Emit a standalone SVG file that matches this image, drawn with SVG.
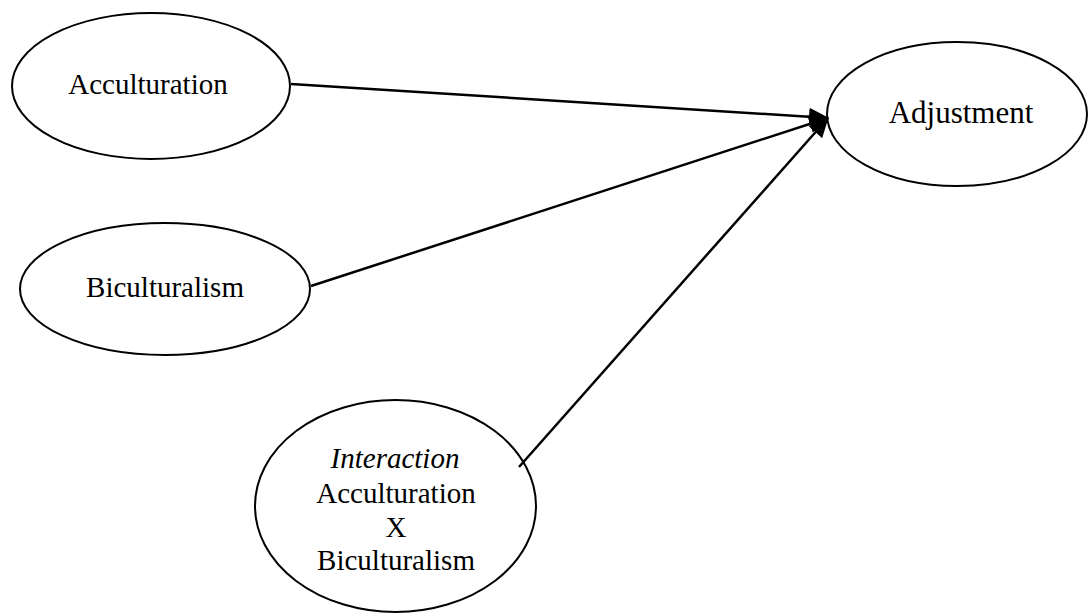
<svg xmlns="http://www.w3.org/2000/svg" width="1088" height="613" viewBox="0 0 1088 613">
<style>
.node{fill:#fff;stroke:#000;stroke-width:2}
.lbl{font-family:"Liberation Serif","Times New Roman",serif;font-size:29px;fill:#000;text-anchor:middle}
.edge{stroke:#000;stroke-width:2.5;fill:none}
</style>
<defs>
<marker id="ah" markerUnits="userSpaceOnUse" markerWidth="22" markerHeight="20" refX="19" refY="10" orient="auto">
<path d="M0,1 L20,10 L0,19 Z" fill="#000"/>
</marker>
</defs>
<rect width="1088" height="613" fill="#fff"/>
<g id="n-acculturation">
<ellipse class="node" cx="151" cy="86" rx="139" ry="73"/>
<text class="lbl" x="148" y="94">Acculturation</text>
</g>
<g id="n-biculturalism">
<ellipse class="node" cx="165" cy="289" rx="145" ry="66"/>
<text class="lbl" x="165" y="297">Biculturalism</text>
</g>
<g id="n-interaction">
<ellipse class="node" cx="395.5" cy="506" rx="140.5" ry="106"/>
<text class="lbl" x="395" y="468" font-style="italic">Interaction</text>
<text class="lbl" x="396" y="503">Acculturation</text>
<text class="lbl" x="396" y="537">X</text>
<text class="lbl" x="396" y="570">Biculturalism</text>
</g>
<g id="n-adjustment">
<ellipse class="node" cx="957" cy="114" rx="130" ry="72"/>
<text class="lbl" x="961" y="123" style="font-size:31px">Adjustment</text>
</g>
<g id="connectors">
<line class="edge" x1="291" y1="84" x2="828" y2="118" marker-end="url(#ah)"/>
<line class="edge" x1="311" y1="286" x2="828" y2="118" marker-end="url(#ah)"/>
<line class="edge" x1="519" y1="467" x2="828" y2="118" marker-end="url(#ah)"/>
</g>
</svg>
